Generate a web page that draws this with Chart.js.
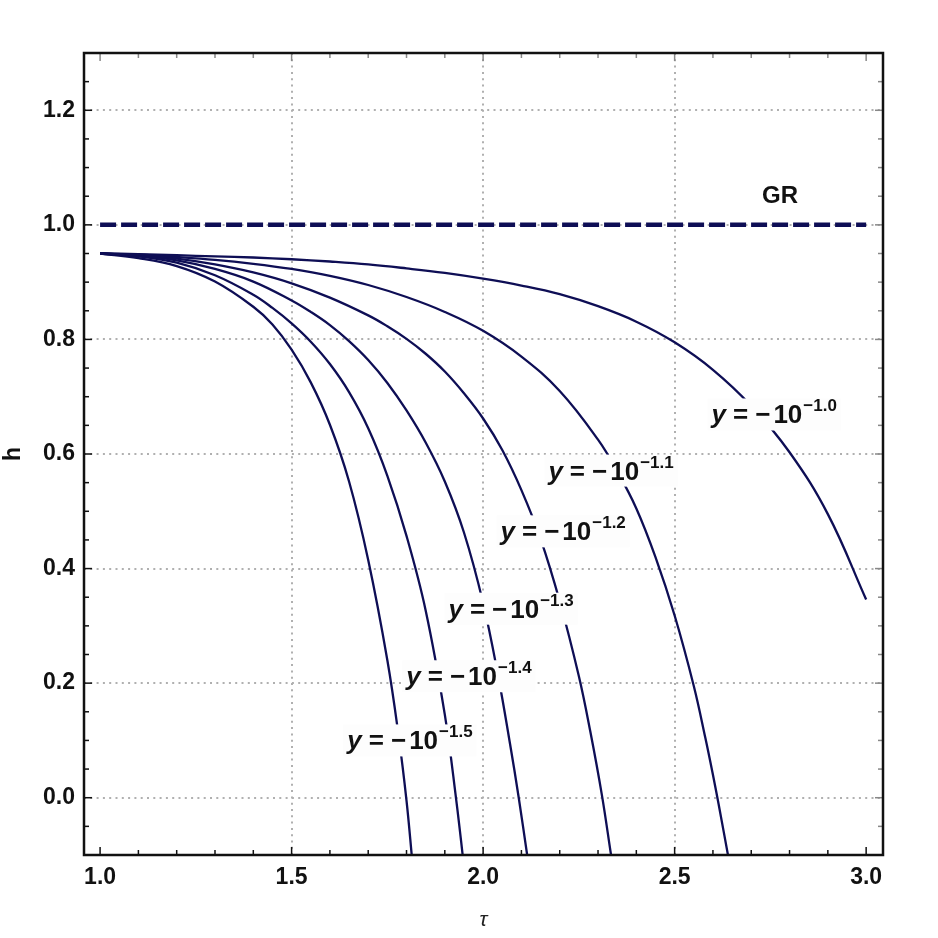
<!DOCTYPE html>
<html>
<head>
<meta charset="utf-8">
<script src="https://cdn.jsdelivr.net/npm/chart.js@4.4.1/dist/chart.umd.min.js"></script>
<style>
  html, body { margin: 0; padding: 0; background: #fff; }
  #wrap { width: 938px; height: 938px; }
</style>
</head>
<body>
<div id="wrap"><canvas id="chart" width="938" height="938"></canvas></div>
<script>
// curves h(tau), one per y = -10^p
const exponents = ['1.0', '1.1', '1.2', '1.3', '1.4', '1.5'];

const tau10 = [1.0, 1.1, 1.2, 1.3, 1.4, 1.5, 1.6, 1.7, 1.8, 1.9, 2.0, 2.1, 2.2, 2.3, 2.4, 2.5, 2.6, 2.7, 2.8, 2.9, 3.0];
const h10   = [0.950, 0.949, 0.947, 0.945, 0.943, 0.940, 0.936, 0.931, 0.924, 0.916, 0.906, 0.894, 0.879, 0.858, 0.831, 0.795, 0.747, 0.684, 0.603, 0.495, 0.346];

const tau11 = [1.0, 1.1, 1.2, 1.3, 1.4, 1.5, 1.6, 1.7, 1.8, 1.9, 2.0, 2.1, 2.2, 2.3, 2.35, 2.4, 2.45, 2.5, 2.55, 2.58, 2.6, 2.615, 2.642];
const h11   = [0.950, 0.948, 0.944, 0.939, 0.932, 0.923, 0.911, 0.895, 0.874, 0.848, 0.815, 0.770, 0.710, 0.625, 0.570, 0.505, 0.420, 0.318, 0.195, 0.105, 0.040, -0.012, -0.110];

const tau12 = [1.0, 1.1, 1.2, 1.3, 1.4, 1.5, 1.6, 1.7, 1.75, 1.8, 1.85, 1.9, 1.95, 2.0, 2.05, 2.1, 2.15, 2.2, 2.25, 2.28, 2.31, 2.334];
const h12   = [0.950, 0.947, 0.941, 0.931, 0.917, 0.898, 0.873, 0.842, 0.823, 0.801, 0.775, 0.744, 0.706, 0.662, 0.607, 0.537, 0.452, 0.343, 0.212, 0.115, 0.005, -0.100];

const tau13 = [1.0, 1.1, 1.2, 1.3, 1.4, 1.5, 1.55, 1.6, 1.65, 1.7, 1.75, 1.8, 1.85, 1.9, 1.95, 2.0, 2.04, 2.07, 2.093, 2.115];
const h13   = [0.950, 0.946, 0.938, 0.923, 0.901, 0.868, 0.848, 0.825, 0.797, 0.764, 0.724, 0.676, 0.620, 0.552, 0.463, 0.340, 0.210, 0.095, 0.000, -0.100];

const tau14 = [1.0, 1.1, 1.2, 1.3, 1.4, 1.45, 1.5, 1.55, 1.6, 1.65, 1.7, 1.75, 1.8, 1.85, 1.9, 1.93, 1.95];
const h14   = [0.950, 0.945, 0.934, 0.912, 0.878, 0.855, 0.828, 0.796, 0.757, 0.708, 0.645, 0.562, 0.457, 0.327, 0.145, -0.005, -0.120];

const tau15 = [1.0, 1.1, 1.2, 1.3, 1.4, 1.45, 1.5, 1.55, 1.6, 1.65, 1.7, 1.75, 1.78, 1.8, 1.815];
const h15   = [0.950, 0.942, 0.928, 0.901, 0.857, 0.826, 0.782, 0.725, 0.651, 0.552, 0.415, 0.240, 0.105, -0.005, -0.110];

// GR reference line
const grTau = [1.0, 3.0];
const grH = [1.0, 1.0];

// axes
const xTicks = [1.0, 1.5, 2.0, 2.5, 3.0];
const yTicks = [0.0, 0.2, 0.4, 0.6, 0.8, 1.0, 1.2];
const xGrid = [1.5, 2.0, 2.5];

const NAVY = '#0e0e55';
const GRID = '#b0b0b0';
const FONT = '"Liberation Sans", Arial, Helvetica, sans-serif';

// where each curve label sits (data coords of the label centre)
const curveLabels = [
  { tau: 2.760, h: 0.669 },
  { tau: 2.334, h: 0.571 },
  { tau: 2.209, h: 0.465 },
  { tau: 2.073, h: 0.330 },
  { tau: 1.963, h: 0.212 },
  { tau: 1.809, h: 0.100 }
];
const grLabel = { tau: 2.775, h: 1.050 };

const toPoints = (xs, ys) => xs.map((x, i) => ({ x: x, y: ys[i] }));
const curves = [[tau10, h10], [tau11, h11], [tau12, h12], [tau13, h13], [tau14, h14], [tau15, h15]];

const datasets = curves.map(([xs, ys], i) => ({
  label: 'y = \u221210^\u2212' + exponents[i],
  data: toPoints(xs, ys),
  borderColor: NAVY,
  borderWidth: 2.3,
  pointRadius: 0,
  showLine: true,
  fill: false,
  tension: 0.4
}));
datasets.push({
  label: 'GR',
  data: toPoints(grTau, grH),
  borderColor: NAVY,
  borderWidth: 4.5,
  borderDash: [16, 5],
  pointRadius: 0,
  showLine: true,
  fill: false
});

function drawCurveLabel(ctx, cx, cy, exp) {
  const parts = [
    { text: 'y', font: `italic bold 26px ${FONT}`, gap: 7, rise: 0 },
    { text: '=', font: `bold 26px ${FONT}`, gap: 7, rise: 0 },
    { text: '\u2212', font: `bold 26px ${FONT}`, gap: 3, rise: 0 },
    { text: '10', font: `bold 26px ${FONT}`, gap: 1, rise: 0 },
    { text: '\u2212' + exp, font: `bold 17px ${FONT}`, gap: 0, rise: 12 }
  ];
  let width = 0;
  parts.forEach(p => {
    ctx.font = p.font;
    p.w = ctx.measureText(p.text).width;
    width += p.w + p.gap;
  });
  const left = cx - width / 2;
  ctx.fillStyle = '#fdfdfd';
  ctx.fillRect(left - 4, cy - 16, width + 8, 32);
  ctx.fillStyle = '#111';
  ctx.textAlign = 'left';
  ctx.textBaseline = 'alphabetic';
  let xPos = left;
  const base = cy + 9;
  parts.forEach(p => {
    ctx.font = p.font;
    ctx.fillText(p.text, xPos, base - p.rise);
    xPos += p.w + p.gap;
  });
}

const decorations = {
  id: 'decorations',
  afterDatasetsDraw(chart) {
    const { ctx, scales: { x, y } } = chart;
    ctx.save();
    curveLabels.forEach((l, i) => {
      drawCurveLabel(ctx, x.getPixelForValue(l.tau), y.getPixelForValue(l.h), exponents[i]);
    });
    ctx.font = `bold 24px ${FONT}`;
    ctx.fillStyle = '#111';
    ctx.textAlign = 'center';
    ctx.textBaseline = 'middle';
    ctx.fillText('GR', x.getPixelForValue(grLabel.tau), y.getPixelForValue(grLabel.h));
    ctx.restore();
  },
  afterDraw(chart) {
    const { ctx, chartArea: a, scales: { x, y } } = chart;
    ctx.save();
    // inward ticks on all four sides
    const isMajor = (v, step) => Math.abs(v / step - Math.round(v / step)) < 1e-6;
    ctx.lineWidth = 1.5;
    for (let k = Math.ceil(x.min / 0.1); k * 0.1 <= x.max; k++) {
      const v = k * 0.1;
      const px = x.getPixelForValue(v);
      const len = isMajor(v, 0.5) ? 8 : 5;
      ctx.strokeStyle = '#111';
      ctx.beginPath(); ctx.moveTo(px, a.bottom); ctx.lineTo(px, a.bottom - len); ctx.stroke();
      ctx.strokeStyle = '#888';
      ctx.beginPath(); ctx.moveTo(px, a.top); ctx.lineTo(px, a.top + len); ctx.stroke();
    }
    for (let k = Math.ceil(y.min / 0.05 - 1e-6) + 1; k * 0.05 < y.max - 1e-6; k++) {
      const v = k * 0.05;
      const py = y.getPixelForValue(v);
      const len = isMajor(v, 0.2) ? 8 : 5;
      ctx.strokeStyle = '#111';
      ctx.beginPath(); ctx.moveTo(a.left, py); ctx.lineTo(a.left + len, py); ctx.stroke();
      ctx.strokeStyle = '#888';
      ctx.beginPath(); ctx.moveTo(a.right, py); ctx.lineTo(a.right - len, py); ctx.stroke();
    }
    // frame
    ctx.strokeStyle = '#111';
    ctx.lineWidth = 2.5;
    ctx.strokeRect(a.left, a.top, a.right - a.left, a.bottom - a.top);
    ctx.restore();
  }
};

new Chart(document.getElementById('chart').getContext('2d'), {
  type: 'scatter',
  data: { datasets: datasets },
  options: {
    responsive: false,
    animation: false,
    layout: { padding: { top: 53, right: 55, left: 0, bottom: 0 } },
    plugins: {
      legend: { display: false },
      tooltip: { enabled: false }
    },
    scales: {
      x: {
        type: 'linear',
        min: 0.958,
        max: 3.044,
        afterBuildTicks: s => { s.ticks = xTicks.map(v => ({ value: v })); },
        afterFit: s => { s.height = 83; },
        ticks: {
          callback: v => Number(v).toFixed(1),
          font: { family: FONT, size: 23, weight: 'bold' },
          color: '#111',
          padding: 9,
          maxRotation: 0,
          autoSkip: false
        },
        grid: {
          color: c => (c.tick && xGrid.includes(c.tick.value)) ? GRID : 'rgba(0,0,0,0)',
          lineWidth: 2,
          drawTicks: false
        },
        border: { display: false, dash: [2, 4.3] },
        title: {
          display: true,
          text: '\u03c4',
          color: '#222',
          font: { family: FONT, size: 21, style: 'italic' },
          padding: { top: 0, bottom: 5 }
        }
      },
      y: {
        type: 'linear',
        min: -0.1,
        max: 1.3,
        afterBuildTicks: s => { s.ticks = yTicks.map(v => ({ value: v })); },
        afterFit: s => { s.width = 84; },
        ticks: {
          callback: v => Number(v).toFixed(1),
          font: { family: FONT, size: 23, weight: 'bold' },
          color: '#111',
          padding: 9
        },
        grid: {
          color: GRID,
          lineWidth: 2,
          drawTicks: false
        },
        border: { display: false, dash: [2, 4.3] },
        title: {
          display: true,
          text: 'h',
          color: '#111',
          font: { family: FONT, size: 23, weight: 'bold' },
          padding: { top: 0, bottom: 0 }
        }
      }
    }
  },
  plugins: [decorations]
});
</script>
</body>
</html>
